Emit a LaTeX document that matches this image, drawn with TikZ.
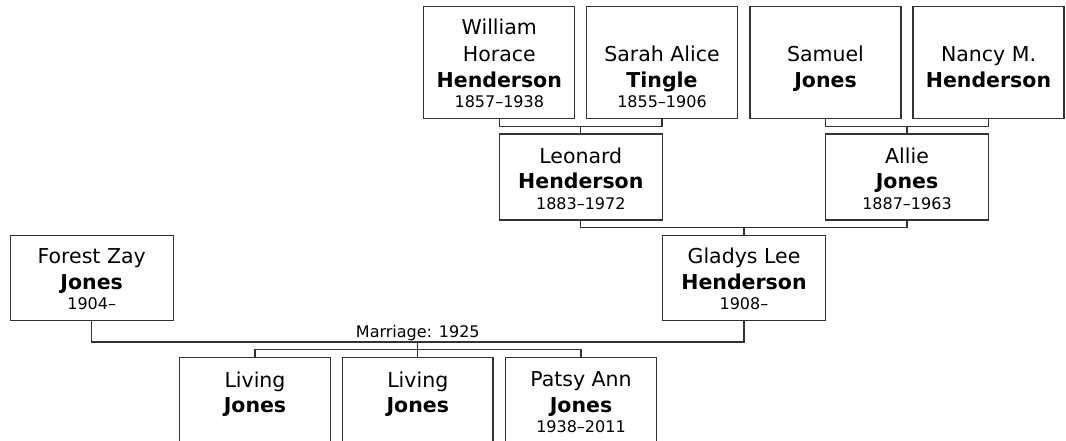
\documentclass[tikz,border=0pt]{standalone}
\usepackage{fontspec}
\setmainfont{DejaVu Sans}
\definecolor{linec}{HTML}{333333}
\newcommand{\namefont}{\fontsize{20.5}{27}\selectfont}
\newcommand{\datefont}{\fontsize{16}{20.5}\selectfont}
\newcommand{\ptext}[5]{\parbox[c][#2][b]{#1}{\centering\namefont #3\par
  \baselineskip=25.5pt{\bfseries #4}\par
  \datefont\leavevmode #5\par\vspace{10.5pt}}}
\tikzset{
  pbox/.style={draw=linec, line width=1.25pt, inner sep=0pt, rectangle, fill=white},
  conn/.style={draw=linec, line width=1.25pt},
  lbl/.style={inner sep=0pt, font=\fontsize{16}{19}\selectfont}
}
\begin{document}
\begin{tikzpicture}[x=1pt,y=-1pt]
\useasboundingbox (0,0) rectangle (1066,441);
\clip (0,0) rectangle (1066,441);
% top row
\node[pbox] (wh) at (499.3,62.5) {\ptext{151pt}{112pt}{William\\Horace}{Henderson}{1857–1938}};
\node[pbox] (sa) at (662,62.5) {\ptext{151pt}{112pt}{Sarah Alice}{Tingle}{1855–1906}};
\node[pbox] (sj) at (825.5,62.5) {\ptext{151pt}{112pt}{Samuel}{Jones}{}};
\node[pbox] (nh) at (988.5,62.5) {\ptext{151pt}{112pt}{Nancy M.}{Henderson}{}};
% middle row
\node[pbox] (lh) at (580.8,177) {\ptext{163pt}{86pt}{Leonard}{Henderson}{1883–1972}};
\node[pbox] (aj) at (907,177) {\ptext{163pt}{86pt}{Allie}{Jones}{1887–1963}};
% third row
\node[pbox] (fj) at (91.7,278.1) {\ptext{163pt}{85.2pt}{Forest Zay}{Jones}{1904–}};
\node[pbox] (gh) at (744,278.1) {\ptext{163pt}{85.2pt}{Gladys Lee}{Henderson}{1908–}};
% children
\node[pbox] (c1) at (255,400.7) {\ptext{150.3pt}{86pt}{Living}{Jones}{}};
\node[pbox] (c2) at (417.8,400.7) {\ptext{150.3pt}{86pt}{Living}{Jones}{}};
\node[pbox] (c3) at (581,400.7) {\ptext{150.3pt}{86pt}{Patsy Ann}{Jones}{1938–2011}};
% junctions
\coordinate (j1) at (580.8,126.2);
\coordinate (j2) at (907,126.2);
\coordinate (j3) at (744,227.3);
\coordinate (j4) at (417.8,342);
\coordinate (j5) at (417.8,349.3);
% connectors
\draw[conn] (wh.south) |- (j1) -| (sa.south);
\draw[conn] (j1) -- (lh.north);
\draw[conn] (sj.south) |- (j2) -| (nh.south);
\draw[conn] (j2) -- (aj.north);
\draw[conn] (lh.south) |- (j3) -| (aj.south);
\draw[conn] (j3) -- (gh.north);
\draw[conn] (fj.south) |- (j4) -| (gh.south);
\draw[conn] (j4) -- (c2.north);
\draw[conn] (c1.north) |- (j5) -| (c3.north);
\node[lbl, anchor=base] (mlabel) at ([yshift=4.6pt]j4) {Marriage: 1925};
\end{tikzpicture}
\end{document}
